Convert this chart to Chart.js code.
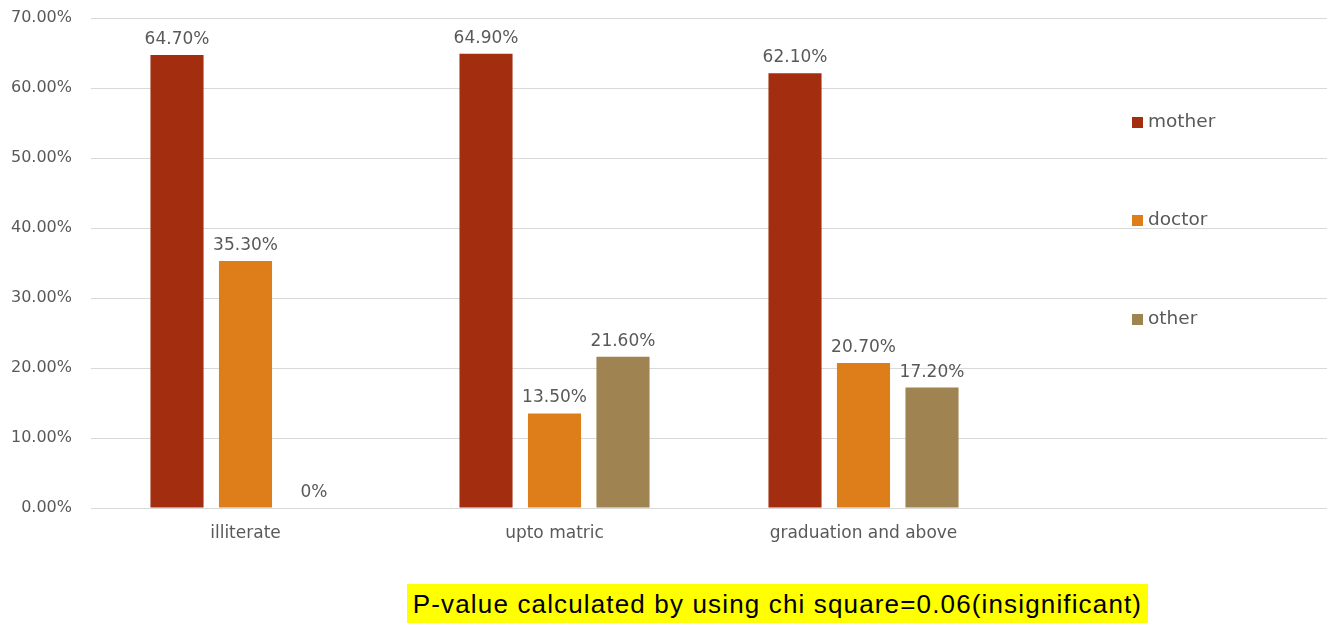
<!DOCTYPE html>
<html>
<head>
<meta charset="utf-8">
<script src="https://cdn.jsdelivr.net/npm/chart.js@4.4.1/dist/chart.umd.min.js"></script>
<style>
  html, body { margin: 0; padding: 0; background: #fff; }
  #wrap { position: relative; width: 1329px; height: 623px; }
  #note {
    position: absolute; left: 407px; top: 584px; width: 741px; height: 39px;
    background: #ffff00; color: #000;
    font-family: "Liberation Sans", Arial, sans-serif; font-size: 26px;
    letter-spacing: 1.15px;
    line-height: 40px; text-align: center; white-space: nowrap;
  }
</style>
</head>
<body>
<div id="wrap">
  <canvas id="eduChart" width="1329" height="623"></canvas>
  <div id="note">P-value calculated by using chi square=0.06(insignificant)</div>
</div>
<script>
// categories (the last one is empty, the legend sits there)
const categories = ["illiterate", "upto matric", "graduation and above", ""];
const mother = [64.7, 64.9, 62.1, null];
const doctor = [35.3, 13.5, 20.7, null];
const other = [0, 21.6, 17.2, null];
const yTicks = [0, 10, 20, 30, 40, 50, 60, 70];

const labelColor = "#595959";
const fontFamily = "'DejaVu Sans', sans-serif";

// value labels above the bars
const valueLabels = {
  id: "valueLabels",
  afterDatasetsDraw(chart) {
    const ctx = chart.ctx;
    ctx.save();
    ctx.font = "17px " + fontFamily;
    ctx.fillStyle = labelColor;
    ctx.textAlign = "center";
    ctx.textBaseline = "bottom";
    chart.data.datasets.forEach((ds, i) => {
      chart.getDatasetMeta(i).data.forEach((bar, j) => {
        const v = ds.data[j];
        if (v === null || v === undefined) return;
        const txt = v === 0 ? "0%" : v.toFixed(2) + "%";
        ctx.fillText(txt, bar.x, bar.y - 7);
      });
    });
    ctx.restore();
  }
};

// legend drawn inside the empty fourth category
const sideLegend = {
  id: "sideLegend",
  afterDraw(chart) {
    const ctx = chart.ctx;
    const ys = [122, 220, 319];
    ctx.save();
    ctx.font = "18.5px " + fontFamily;
    ctx.textBaseline = "middle";
    chart.data.datasets.forEach((ds, i) => {
      ctx.fillStyle = ds.backgroundColor;
      ctx.fillRect(1132, ys[i] - 5, 11, 11);
      ctx.fillStyle = labelColor;
      ctx.fillText(ds.label, 1148, ys[i]);
    });
    ctx.restore();
  }
};

new Chart(document.getElementById("eduChart"), {
  type: "bar",
  data: {
    labels: categories,
    datasets: [
      { label: "mother", data: mother, backgroundColor: "#A32D0F" },
      { label: "doctor", data: doctor, backgroundColor: "#DE7E1B" },
      { label: "other", data: other, backgroundColor: "#9F8350" }
    ]
  },
  options: {
    responsive: false,
    animation: false,
    categoryPercentage: 0.665,
    barPercentage: 0.775,
    layout: { padding: { top: 18, right: 2, left: 0, bottom: 0 } },
    plugins: {
      legend: { display: false },
      tooltip: { enabled: false }
    },
    scales: {
      x: {
        grid: { display: false },
        border: { display: false },
        ticks: { color: labelColor, font: { family: fontFamily, size: 17 }, padding: 7 },
        afterFit(scale) { scale.height = 115; }
      },
      y: {
        min: 0,
        max: 70,
        afterBuildTicks(scale) { scale.ticks = yTicks.map(v => ({ value: v })); },
        grid: { color: "#D9D9D9", drawTicks: false },
        border: { display: false },
        ticks: {
          color: labelColor,
          font: { family: fontFamily, size: 16 },
          padding: 19,
          callback: v => v.toFixed(2) + "%"
        },
        afterFit(scale) {
          scale.width = 91;
          scale.paddingTop = 0;
          scale.paddingBottom = 0;
        }
      }
    }
  },
  plugins: [valueLabels, sideLegend]
});
</script>
</body>
</html>
